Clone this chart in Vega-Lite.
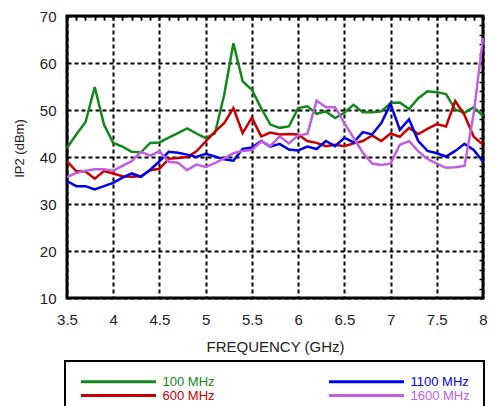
{
  "$schema": "https://vega.github.io/schema/vega-lite/v6.json",
  "width": 416,
  "height": 282,
  "autosize": "none",
  "padding": {"left": 67, "top": 16, "right": 7, "bottom": 108},
  "background": "white",
  "config": {
    "font": "Liberation Sans",
    "view": {"stroke": "black", "strokeWidth": 3},
    "axis": {"domain": false}
  },
  "data": {
    "values": [
      {"f": 3.5, "100 MHz": 41.9, "600 MHz": 39.1, "1100 MHz": 34.9, "1600 MHz": 35.7},
      {"f": 3.6, "100 MHz": 44.8, "600 MHz": 37.0, "1100 MHz": 33.8, "1600 MHz": 36.6},
      {"f": 3.7, "100 MHz": 47.4, "600 MHz": 36.9, "1100 MHz": 33.8, "1600 MHz": 37.1},
      {"f": 3.8, "100 MHz": 54.9, "600 MHz": 35.4, "1100 MHz": 33.1, "1600 MHz": 37.4},
      {"f": 3.9, "100 MHz": 46.9, "600 MHz": 37.0, "1100 MHz": 33.8, "1600 MHz": 37.4},
      {"f": 4.0, "100 MHz": 43.0, "600 MHz": 36.5, "1100 MHz": 34.5, "1600 MHz": 37.1},
      {"f": 4.1, "100 MHz": 42.2, "600 MHz": 35.9, "1100 MHz": 35.6, "1600 MHz": 38.1},
      {"f": 4.2, "100 MHz": 41.1, "600 MHz": 35.8, "1100 MHz": 36.5, "1600 MHz": 39.1},
      {"f": 4.3, "100 MHz": 41.0, "600 MHz": 35.9, "1100 MHz": 35.8, "1600 MHz": 41.1},
      {"f": 4.4, "100 MHz": 43.0, "600 MHz": 37.2, "1100 MHz": 37.3, "1600 MHz": 40.3},
      {"f": 4.5, "100 MHz": 43.1, "600 MHz": 37.5, "1100 MHz": 39.1, "1600 MHz": 41.2},
      {"f": 4.6, "100 MHz": 44.1, "600 MHz": 39.6, "1100 MHz": 41.1, "1600 MHz": 39.0},
      {"f": 4.7, "100 MHz": 45.1, "600 MHz": 39.8, "1100 MHz": 40.9, "1600 MHz": 38.8},
      {"f": 4.8, "100 MHz": 46.1, "600 MHz": 40.0, "1100 MHz": 40.5, "1600 MHz": 37.2},
      {"f": 4.9, "100 MHz": 45.0, "600 MHz": 41.2, "1100 MHz": 40.0, "1600 MHz": 38.4},
      {"f": 5.0, "100 MHz": 44.0, "600 MHz": 43.3, "1100 MHz": 40.7, "1600 MHz": 37.9},
      {"f": 5.1, "100 MHz": 45.0, "600 MHz": 45.4, "1100 MHz": 40.1, "1600 MHz": 38.7},
      {"f": 5.2, "100 MHz": 53.2, "600 MHz": 47.2, "1100 MHz": 39.5, "1600 MHz": 39.7},
      {"f": 5.3, "100 MHz": 64.2, "600 MHz": 50.4, "1100 MHz": 39.2, "1600 MHz": 40.8},
      {"f": 5.4, "100 MHz": 56.1, "600 MHz": 45.1, "1100 MHz": 41.7, "1600 MHz": 41.3},
      {"f": 5.5, "100 MHz": 54.3, "600 MHz": 48.4, "1100 MHz": 42.0, "1600 MHz": 41.5},
      {"f": 5.6, "100 MHz": 50.4, "600 MHz": 44.4, "1100 MHz": 43.4, "1600 MHz": 43.3},
      {"f": 5.7, "100 MHz": 46.9, "600 MHz": 45.2, "1100 MHz": 42.2, "1600 MHz": 42.3},
      {"f": 5.8, "100 MHz": 46.2, "600 MHz": 44.8, "1100 MHz": 42.8, "1600 MHz": 44.4},
      {"f": 5.9, "100 MHz": 46.5, "600 MHz": 44.9, "1100 MHz": 41.6, "1600 MHz": 42.9},
      {"f": 6.0, "100 MHz": 50.4, "600 MHz": 44.8, "1100 MHz": 41.4, "1600 MHz": 44.6},
      {"f": 6.1, "100 MHz": 50.8, "600 MHz": 43.4, "1100 MHz": 42.2, "1600 MHz": 44.9},
      {"f": 6.2, "100 MHz": 49.2, "600 MHz": 43.0, "1100 MHz": 41.7, "1600 MHz": 52.0},
      {"f": 6.3, "100 MHz": 49.7, "600 MHz": 42.3, "1100 MHz": 43.4, "1600 MHz": 50.6},
      {"f": 6.4, "100 MHz": 48.3, "600 MHz": 42.6, "1100 MHz": 42.3, "1600 MHz": 50.6},
      {"f": 6.5, "100 MHz": 49.4, "600 MHz": 42.3, "1100 MHz": 44.1, "1600 MHz": 47.2},
      {"f": 6.6, "100 MHz": 51.1, "600 MHz": 42.9, "1100 MHz": 43.1, "1600 MHz": 44.1},
      {"f": 6.7, "100 MHz": 49.5, "600 MHz": 43.4, "1100 MHz": 45.3, "1600 MHz": 40.9},
      {"f": 6.8, "100 MHz": 49.5, "600 MHz": 44.6, "1100 MHz": 44.8, "1600 MHz": 38.6},
      {"f": 6.9, "100 MHz": 49.7, "600 MHz": 43.4, "1100 MHz": 47.2, "1600 MHz": 38.3},
      {"f": 7.0, "100 MHz": 51.5, "600 MHz": 45.0, "1100 MHz": 51.3, "1600 MHz": 38.6},
      {"f": 7.1, "100 MHz": 51.6, "600 MHz": 44.3, "1100 MHz": 45.8, "1600 MHz": 42.6},
      {"f": 7.2, "100 MHz": 50.2, "600 MHz": 46.2, "1100 MHz": 48.0, "1600 MHz": 43.4},
      {"f": 7.3, "100 MHz": 52.5, "600 MHz": 44.9, "1100 MHz": 43.4, "1600 MHz": 41.2},
      {"f": 7.4, "100 MHz": 54.0, "600 MHz": 46.0, "1100 MHz": 41.3, "1600 MHz": 39.6},
      {"f": 7.5, "100 MHz": 53.8, "600 MHz": 47.0, "1100 MHz": 40.8, "1600 MHz": 38.6},
      {"f": 7.6, "100 MHz": 53.4, "600 MHz": 46.5, "1100 MHz": 40.1, "1600 MHz": 37.7},
      {"f": 7.7, "100 MHz": 50.1, "600 MHz": 51.9, "1100 MHz": 41.3, "1600 MHz": 37.8},
      {"f": 7.8, "100 MHz": 49.4, "600 MHz": 48.9, "1100 MHz": 42.8, "1600 MHz": 38.1},
      {"f": 7.9, "100 MHz": 50.6, "600 MHz": 44.3, "1100 MHz": 41.5, "1600 MHz": 49.3},
      {"f": 8.0, "100 MHz": 48.7, "600 MHz": 42.6, "1100 MHz": 39.0, "1600 MHz": 65.3}
    ]
  },
  "transform": [
    {"fold": ["100 MHz", "600 MHz", "1100 MHz", "1600 MHz"], "as": ["s", "v"]}
  ],
  "resolve": {"axis": {"x": "independent", "y": "independent"}},
  "layer": [
    {
      "mark": {"type": "line", "strokeWidth": 2.5, "strokeJoin": "miter"},
      "encoding": {
        "x": {
          "field": "f", "type": "quantitative",
          "scale": {"domain": [3.5, 8], "nice": false, "zero": false},
          "axis": {
            "values": [3.5, 4, 4.5, 5, 5.5, 6, 6.5, 7, 7.5, 8],
            "format": "~g",
            "ticks": false,
            "grid": true, "gridColor": "black", "gridDash": [4, 3], "gridWidth": 2, "gridOpacity": 1,
            "labelFontSize": 15, "labelColor": "#222", "labelPadding": 14, "labelFlush": false,
            "title": "FREQUENCY (GHz)", "titleFontSize": 15, "titleFontWeight": "normal",
            "titleColor": "#222", "titlePadding": 12
          }
        },
        "y": {
          "field": "v", "type": "quantitative",
          "scale": {"domain": [10, 70], "nice": false, "zero": false},
          "axis": {
            "values": [10, 20, 30, 40, 50, 60, 70],
            "ticks": false,
            "grid": true, "gridColor": "black", "gridDash": [4, 3], "gridWidth": 2, "gridOpacity": 1,
            "labelFontSize": 15, "labelColor": "#222", "labelPadding": 11,
            "title": "IP2 (dBm)", "titleFontSize": 13, "titleFontWeight": "normal",
            "titleColor": "#222", "titleX": -41, "titleY": 132
          }
        },
        "color": {
          "field": "s", "type": "nominal",
          "scale": {
            "domain": ["100 MHz", "600 MHz", "1100 MHz", "1600 MHz"],
            "range": ["#12871c", "#c80000", "#0000e6", "#c060e0"]
          },
          "legend": {
            "orient": "none", "legendX": -2, "legendY": 345,
            "columns": 2, "title": null,
            "symbolType": "M0,0H15", "symbolSize": 100, "symbolStrokeWidth": 3,
            "symbolOffset": -4.5, "labelOffset": 75,
            "labelFontSize": 13, "labelFont": "Liberation Sans",
            "padding": 14, "rowPadding": -8, "columnPadding": 108,
            "strokeColor": "black",
            "encode": {
              "legend": {"update": {"strokeWidth": {"value": 2}}},
              "labels": {"update": {"fill": {"scale": "color", "field": "value"}}}
            }
          }
        },
        "order": {"field": "f", "type": "quantitative"}
      }
    },
    {
      "mark": {"type": "line", "strokeOpacity": 0},
      "encoding": {
        "x": {
          "field": "f", "type": "quantitative",
          "axis": {
            "values": [3.5, 3.6, 3.7, 3.8, 3.9, 4.0, 4.1, 4.2, 4.3, 4.4, 4.5, 4.6, 4.7, 4.8, 4.9, 5.0, 5.1, 5.2, 5.3, 5.4, 5.5, 5.6, 5.7, 5.8, 5.9, 6.0, 6.1, 6.2, 6.3, 6.4, 6.5, 6.6, 6.7, 6.8, 6.9, 7.0, 7.1, 7.2, 7.3, 7.4, 7.5, 7.6, 7.7, 7.8, 7.9, 8.0],
            "labels": false, "grid": false, "title": null,
            "tickSize": -4, "tickWidth": 1.5, "tickColor": "black"
          }
        },
        "y": {
          "field": "v", "type": "quantitative",
          "axis": {
            "values": [10, 12, 14, 16, 18, 20, 22, 24, 26, 28, 30, 32, 34, 36, 38, 40, 42, 44, 46, 48, 50, 52, 54, 56, 58, 60, 62, 64, 66, 68, 70],
            "labels": false, "grid": false, "title": null,
            "tickSize": -4, "tickWidth": 1.5, "tickColor": "black"
          }
        },
        "detail": {"field": "s", "type": "nominal"}
      }
    },
    {
      "mark": {"type": "line", "strokeOpacity": 0},
      "encoding": {
        "x": {
          "field": "f", "type": "quantitative",
          "axis": {
            "orient": "top",
            "values": [3.5, 3.6, 3.7, 3.8, 3.9, 4.0, 4.1, 4.2, 4.3, 4.4, 4.5, 4.6, 4.7, 4.8, 4.9, 5.0, 5.1, 5.2, 5.3, 5.4, 5.5, 5.6, 5.7, 5.8, 5.9, 6.0, 6.1, 6.2, 6.3, 6.4, 6.5, 6.6, 6.7, 6.8, 6.9, 7.0, 7.1, 7.2, 7.3, 7.4, 7.5, 7.6, 7.7, 7.8, 7.9, 8.0],
            "labels": false, "grid": false, "title": null,
            "tickSize": -4, "tickWidth": 1.5, "tickColor": "black"
          }
        },
        "y": {"field": "v", "type": "quantitative", "axis": null},
        "detail": {"field": "s", "type": "nominal"}
      }
    }
  ]
}
